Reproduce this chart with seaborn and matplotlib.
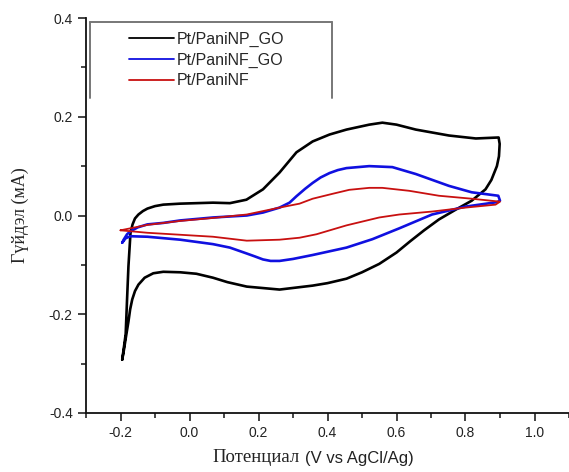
import matplotlib
matplotlib.use("Agg")
import matplotlib.pyplot as plt
from matplotlib.offsetbox import TextArea, HPacker, AnchoredOffsetbox
import seaborn as sns
import numpy as np
import pandas as pd

# Pt/PaniNP_GO (black) - closed CV loop, forward then reverse
np_go_E = [-0.195, -0.185, -0.181, -0.177, -0.171, -0.165, -0.158, -0.148, -0.135, -0.122, -0.100,
           -0.076, -0.027, 0.068, 0.117, 0.165, 0.213, 0.261, 0.310, 0.357, 0.406, 0.455, 0.521,
           0.559, 0.600, 0.656, 0.752, 0.830, 0.896, 0.899, 0.897, 0.891, 0.875, 0.858, 0.818,
           0.772, 0.723, 0.680, 0.640, 0.600, 0.550, 0.500, 0.455, 0.400, 0.357, 0.261, 0.166,
           0.110, 0.068, 0.020, -0.027, -0.076, -0.105, -0.130, -0.148, -0.158, -0.166, -0.172,
           -0.177, -0.184, -0.190, -0.195]
np_go_I = [-0.292, -0.240, -0.170, -0.103, -0.035, -0.018, -0.006, 0.002, 0.009, 0.014, 0.019,
           0.022, 0.024, 0.026, 0.025, 0.032, 0.053, 0.087, 0.128, 0.150, 0.164, 0.174, 0.184,
           0.188, 0.184, 0.174, 0.162, 0.156, 0.158, 0.145, 0.120, 0.100, 0.072, 0.053, 0.030,
           0.012, -0.008, -0.030, -0.052, -0.075, -0.098, -0.115, -0.128, -0.137, -0.142, -0.150,
           -0.144, -0.135, -0.126, -0.118, -0.115, -0.114, -0.117, -0.126, -0.140, -0.153, -0.170,
           -0.190, -0.215, -0.245, -0.272, -0.292]

# Pt/PaniNF_GO (blue)
nf_go_E = [-0.195, -0.190, -0.181, -0.171, -0.150, -0.122, -0.076, -0.027, 0.068, 0.166, 0.213,
           0.261, 0.290, 0.310, 0.335, 0.357, 0.380, 0.406, 0.430, 0.455, 0.521, 0.588, 0.656,
           0.752, 0.818, 0.895, 0.900, 0.891, 0.800, 0.703, 0.608, 0.530, 0.455, 0.357, 0.300,
           0.261, 0.235, 0.213, 0.190, 0.166, 0.117, 0.068, -0.027, -0.122, -0.171, -0.185,
           -0.195]
nf_go_I = [-0.055, -0.048, -0.038, -0.032, -0.024, -0.018, -0.015, -0.010, -0.004, 0.000, 0.006,
           0.016, 0.026, 0.039, 0.054, 0.066, 0.077, 0.086, 0.092, 0.096, 0.100, 0.098, 0.084,
           0.060, 0.047, 0.040, 0.030, 0.027, 0.018, 0.002, -0.026, -0.048, -0.065, -0.080, -0.088,
           -0.092, -0.092, -0.089, -0.083, -0.077, -0.065, -0.058, -0.049, -0.043, -0.042, -0.046,
           -0.055]

# Pt/PaniNF (red)
nf_E = [-0.200, -0.122, -0.027, 0.068, 0.166, 0.261, 0.319, 0.357, 0.415, 0.463, 0.521, 0.559,
        0.637, 0.723, 0.818, 0.900, 0.887, 0.800, 0.703, 0.608, 0.550, 0.455, 0.368, 0.319,
        0.261, 0.166, 0.068, -0.027, -0.122, -0.200]
nf_I = [-0.030, -0.019, -0.011, -0.005, 0.002, 0.016, 0.024, 0.034, 0.044, 0.052, 0.056, 0.056,
        0.050, 0.040, 0.034, 0.028, 0.022, 0.016, 0.008, 0.002, -0.004, -0.020, -0.038, -0.045,
        -0.049, -0.051, -0.043, -0.039, -0.035, -0.030]

labels = ["Pt/PaniNP_GO", "Pt/PaniNF_GO", "Pt/PaniNF"]
colors = ["#000000", "#1010e0", "#c81010"]
widths = [1.9, 1.9, 1.3]

sns.set_style("ticks")
plt.rcParams['font.family'] = ['Liberation Sans', 'DejaVu Sans']

fig = plt.figure(figsize=(5.69, 4.72), dpi=100)
ax = fig.add_axes([86/569, 1-413/472, 483/569, 395/472])

series = [(np_go_E, np_go_I), (nf_go_E, nf_go_I), (nf_E, nf_I)]
for (E, I), lab, c, w in zip(series, labels, colors, widths):
    df = pd.DataFrame({"E": E, "I": I})
    sns.lineplot(data=df, x="E", y="I", sort=False, estimator=None, color=c,
                 linewidth=w, label=lab, ax=ax, solid_joinstyle="round")

ax.set_xlim(-0.3, 1.1)
ax.set_ylim(-0.4, 0.4)
ax.set_xticks([-0.2, 0.0, 0.2, 0.4, 0.6, 0.8, 1.0])
ax.set_xticks(np.arange(-0.3, 1.11, 0.1), minor=True)
ax.set_yticks([-0.4, -0.2, 0.0, 0.2, 0.4])
ax.set_yticks([-0.3, -0.1, 0.1, 0.3], minor=True)
ax.set_xticklabels(["-0.2", "0.0", "0.2", "0.4", "0.6", "0.8", "1.0"])
ax.set_yticklabels(["-0.4", "-0.2", "0.0", "0.2", "0.4"])
ax.tick_params(which="major", direction="out", length=6, width=1.2, labelsize=10, colors="#222222")
ax.tick_params(which="minor", direction="out", length=3.5, width=1.2)
sns.despine(ax=ax)
for s in ["left", "bottom"]:
    ax.spines[s].set_linewidth(1.3)
    ax.spines[s].set_color("#111111")

ax.set_xlabel("")
ax.set_ylabel("Гүйдэл (мА)", fontsize=13, family=["Liberation Serif"], labelpad=14)

# x label: serif Cyrillic word followed by sans unit text, as in the source
t1 = TextArea("Потенциал", textprops=dict(family=["Liberation Serif"], size=13.5, color="#222222"))
t2 = TextArea("(V vs AgCl/Ag)", textprops=dict(family=["Liberation Sans"], size=12, color="#222222"))
xlab = HPacker(children=[t1, t2], align="baseline", pad=0, sep=4)
ax.add_artist(AnchoredOffsetbox(loc="center", child=xlab, frameon=False, pad=0, borderpad=0,
                                bbox_to_anchor=(313/569, 1-458/472),
                                bbox_transform=fig.transFigure))

leg = ax.legend(loc="upper left", bbox_to_anchor=(0.09, 0.965), frameon=False, fontsize=11.5,
                handlelength=2.8, handletextpad=0.15, borderpad=0, borderaxespad=0,
                labelspacing=0.35)
for line in leg.get_lines():
    line.set_linewidth(1.3)

# legend frame (open at bottom, as in the source figure)
frame_kw = dict(color="#777777", linewidth=1.4, transform=ax.transAxes, clip_on=False)
ax.plot([0.008, 0.008], [0.797, 0.99], **frame_kw)
ax.plot([0.008, 0.509], [0.99, 0.99], **frame_kw)
ax.plot([0.509, 0.509], [0.99, 0.797], **frame_kw)

fig.savefig("out.png", dpi=100)
